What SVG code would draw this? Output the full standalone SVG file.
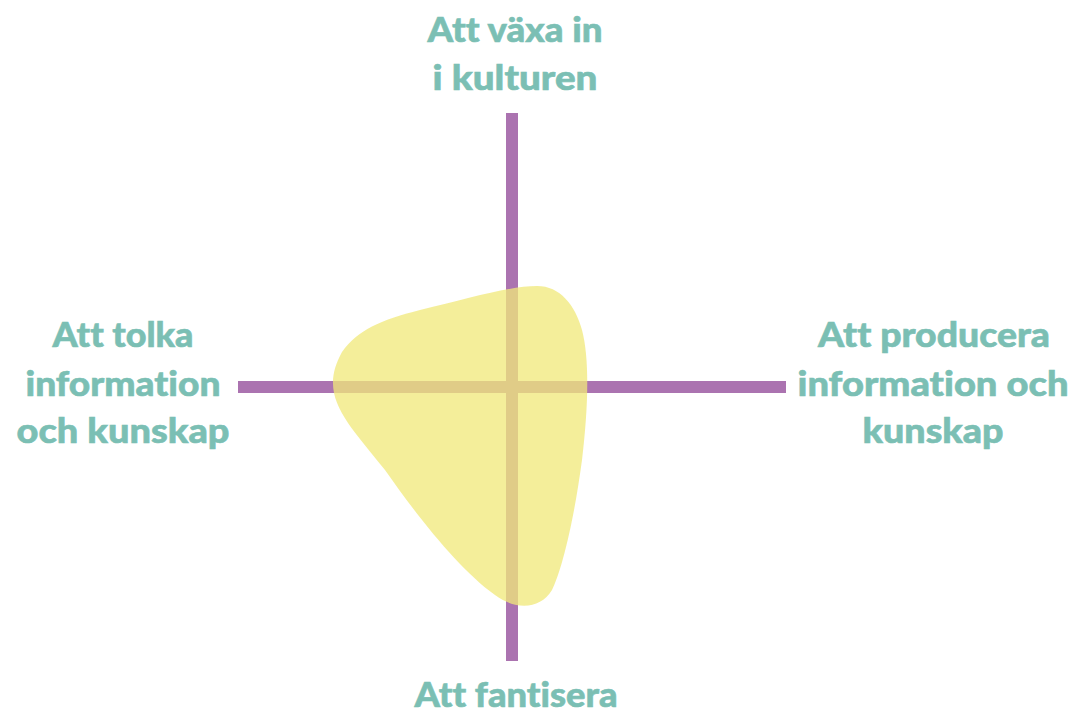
<svg xmlns="http://www.w3.org/2000/svg" width="1076" height="712" viewBox="0 0 1076 712">
<style>
.lbl{font-family:Lato,"Open Sans","DejaVu Sans",sans-serif;font-weight:900;font-size:34px;fill:#7bbfb4;text-anchor:middle;font-variant-ligatures:none;stroke:#7bbfb4;stroke-width:0.6}
.axis{stroke:#ab73b0;stroke-width:12;fill:none}
.blob{fill:#f1e97a;fill-opacity:0.76}
</style>
<rect width="1076" height="712" fill="#ffffff"/>
<g id="connectors">
<line class="axis" x1="512" y1="113" x2="512" y2="661"/>
<line class="axis" x1="238" y1="387" x2="786" y2="387"/>
</g>
<g id="blob">
<path class="blob" d="M 537 286 C 560 286, 575 305, 582 330 C 590 360, 588 410, 582 460 C 574 520, 562 570, 552 590 C 540 610, 515 610, 495 595 C 460 570, 420 520, 385 470 C 345 420, 318 395, 342 352 C 358 330, 380 320, 420 310 C 470 298, 510 286, 537 286 Z"/>
</g>
<g id="node-top">
<text class="lbl" x="515" y="42" textLength="175" lengthAdjust="spacingAndGlyphs">Att växa in</text>
<text class="lbl" x="515" y="90" textLength="165" lengthAdjust="spacingAndGlyphs">i kulturen</text>
</g>
<g id="node-left">
<text class="lbl" x="123" y="347" textLength="141" lengthAdjust="spacingAndGlyphs">Att tolka</text>
<text class="lbl" x="123" y="396" textLength="195" lengthAdjust="spacingAndGlyphs">information</text>
<text class="lbl" x="123" y="443" textLength="213" lengthAdjust="spacingAndGlyphs">och kunskap</text>
</g>
<g id="node-right">
<text class="lbl" x="934" y="347" textLength="232" lengthAdjust="spacingAndGlyphs">Att producera</text>
<text class="lbl" x="933" y="396" textLength="271" lengthAdjust="spacingAndGlyphs">information och</text>
<text class="lbl" x="933" y="443" textLength="141" lengthAdjust="spacingAndGlyphs">kunskap</text>
</g>
<g id="node-bottom">
<text class="lbl" x="516" y="707" textLength="203" lengthAdjust="spacingAndGlyphs">Att fantisera</text>
</g>
</svg>
